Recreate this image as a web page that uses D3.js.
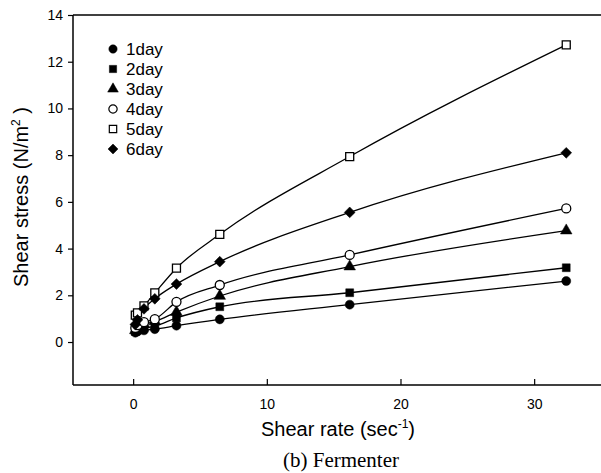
<!DOCTYPE html>
<html>
<head>
<meta charset="utf-8">
<script src="https://cdn.jsdelivr.net/npm/d3@7"></script>
<style>
  body { margin: 0; background: #fff; }
  svg { display: block; font-family: "Liberation Sans", Arial, sans-serif; }
</style>
</head>
<body>
<svg id="chart"></svg>
<script>
// shear rates (sec^-1)
const shearRate = [0.162, 0.324, 0.81, 1.62, 3.24, 6.48, 16.2, 32.4];

const day1 = [0.40, 0.45, 0.50, 0.55, 0.70, 0.97, 1.60, 2.61];
const day2 = [0.45, 0.52, 0.60, 0.68, 1.03, 1.51, 2.11, 3.18];
const day3 = [0.50, 0.60, 0.75, 0.88, 1.28, 1.97, 3.23, 4.77];
const day4 = [0.60, 0.72, 0.85, 0.98, 1.72, 2.44, 3.73, 5.72];
const day5 = [1.15, 1.25, 1.55, 2.10, 3.16, 4.61, 7.94, 12.72];
const day6 = [0.75, 0.95, 1.42, 1.85, 2.48, 3.44, 5.55, 8.10];

const seriesNames = ['1day', '2day', '3day', '4day', '5day', '6day'];
const seriesValues = [day1, day2, day3, day4, day5, day6];

const xTicks = [0, 10, 20, 30];
const yTicks = [0, 2, 4, 6, 8, 10, 12, 14];

const W = 601, H = 473;
const svg = d3.select('#chart').attr('width', W).attr('height', H);

const x = d3.scaleLinear().domain([-4.5, 35]).range([73, 601]);
const y = d3.scaleLinear().domain([-1.84, 14]).range([385, 15]);

// marker shapes: [symbol, filled, size, rotate]
const markers = [
  { type: d3.symbolCircle, fill: true, size: 64, rot: 0 },
  { type: d3.symbolSquare, fill: true, size: 62, rot: 0 },
  { type: d3.symbolTriangle, fill: true, size: 58, rot: 0 },
  { type: d3.symbolCircle, fill: false, size: 64, rot: 0 },
  { type: d3.symbolSquare, fill: false, size: 64, rot: 0 },
  { type: d3.symbolSquare, fill: true, size: 58, rot: 45 }
];

// frame: top line, left axis, bottom axis
svg.append('line')
  .attr('x1', x(-4.5)).attr('x2', W).attr('y1', y(14)).attr('y2', y(14))
  .attr('stroke', '#000').attr('stroke-width', 1.4);

const xAxis = svg.append('g')
  .attr('transform', `translate(0, ${y(-1.84)})`)
  .call(d3.axisBottom(x).tickValues(xTicks).tickSize(-6).tickPadding(14));
xAxis.select('.domain').attr('d', `M${x(-4.5)},0H${W}`).attr('stroke-width', 1.5);

const yAxis = svg.append('g')
  .attr('transform', `translate(${x(-4.5)}, 0)`)
  .call(d3.axisLeft(y).tickValues(yTicks).tickSize(5).tickPadding(5));
yAxis.select('.domain').attr('d', `M0,${y(14)}V${y(-1.84)}`).attr('stroke-width', 1.5);

svg.selectAll('.tick text')
  .attr('font-size', 14)
  .attr('font-family', '"Liberation Sans", Arial, sans-serif')
  .attr('fill', '#000');
svg.selectAll('.tick line').attr('stroke', '#000').attr('stroke-width', 1.2);

// axis titles
svg.append('text')
  .attr('x', 338).attr('y', 436)
  .attr('text-anchor', 'middle')
  .attr('font-size', 20)
  .html('Shear rate (sec<tspan font-size="12" dy="-8">-1</tspan><tspan dy="8">)</tspan>');

svg.append('text')
  .attr('transform', 'translate(28, 197) rotate(-90)')
  .attr('text-anchor', 'middle')
  .attr('font-size', 20)
  .html('Shear stress (N/m<tspan font-size="12" dy="-8">2</tspan><tspan dy="8"> )</tspan>');

svg.append('text')
  .attr('x', 341).attr('y', 467)
  .attr('text-anchor', 'middle')
  .attr('font-family', '"Liberation Serif", "Times New Roman", serif')
  .attr('font-size', 21)
  .text('(b) Fermenter');

// lines
const line = d3.line()
  .x((d, i) => x(shearRate[i]))
  .y(d => y(d))
  .curve(d3.curveMonotoneX);

svg.append('g').selectAll('path')
  .data(seriesValues)
  .join('path')
  .attr('d', line)
  .attr('fill', 'none')
  .attr('stroke', '#000')
  .attr('stroke-width', 1.3);

// points
seriesValues.forEach((vals, s) => {
  const m = markers[s];
  svg.append('g').selectAll('path')
    .data(vals)
    .join('path')
    .attr('d', d3.symbol().type(m.type).size(m.size))
    .attr('transform', (d, i) => `translate(${x(shearRate[i])}, ${y(d)}) rotate(${m.rot})`)
    .attr('fill', m.fill ? '#000' : '#fff')
    .attr('stroke', '#000')
    .attr('stroke-width', m.fill ? 0.5 : 1.3);
});

// legend
const legend = svg.append('g');
seriesNames.forEach((name, s) => {
  const m = markers[s];
  const ly = 49 + s * 20;
  legend.append('path')
    .attr('d', d3.symbol().type(m.type).size(m.size * 0.85))
    .attr('transform', `translate(113, ${ly}) rotate(${m.rot})`)
    .attr('fill', m.fill ? '#000' : '#fff')
    .attr('stroke', '#000')
    .attr('stroke-width', m.fill ? 0.5 : 1.2);
  legend.append('text')
    .attr('x', 126).attr('y', ly + 6)
    .attr('font-size', 17)
    .text(name);
});
</script>
</body>
</html>
